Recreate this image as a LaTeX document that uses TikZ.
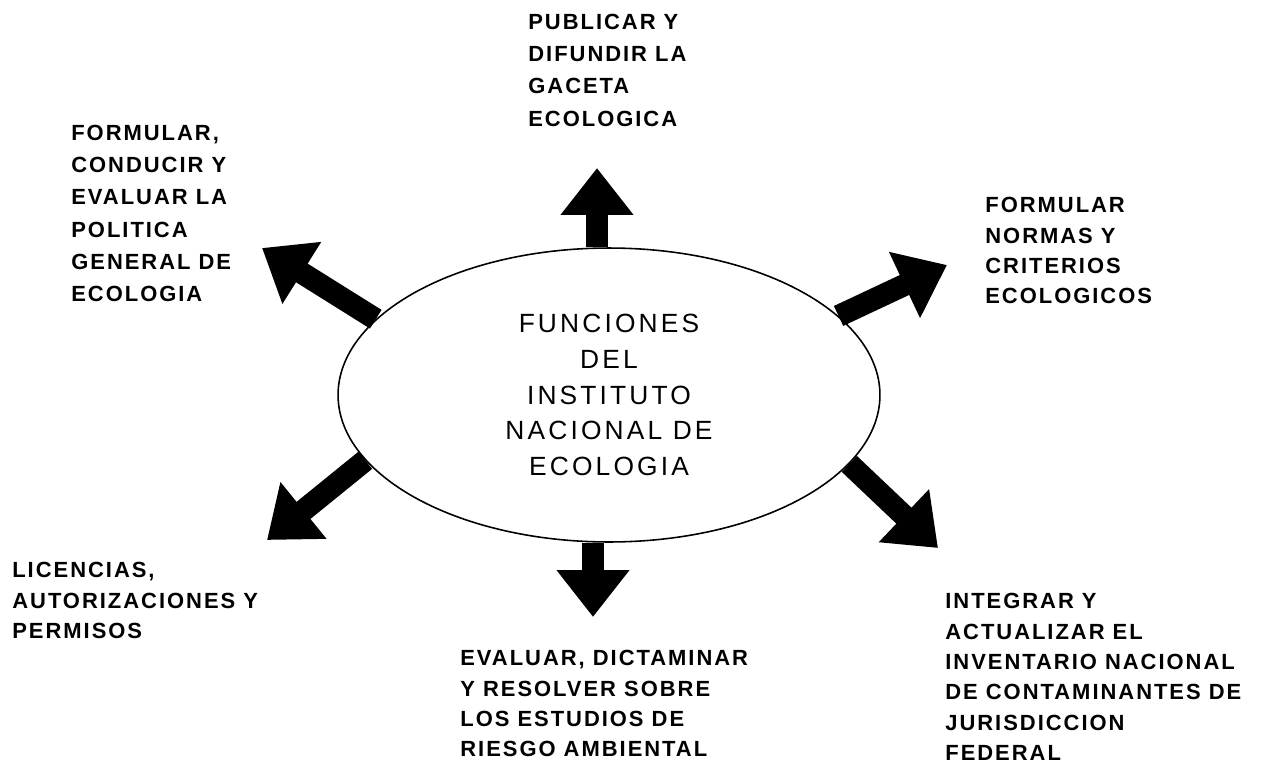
\documentclass[tikz,border=0pt]{standalone}
\usepackage{fontspec}
\newfontfamily\lblfont[LetterSpace=9]{Liberation Sans}
\newfontfamily\ttlfont[LetterSpace=12]{Liberation Sans}
\usetikzlibrary{positioning}
\usetikzlibrary{arrows.meta}
\usetikzlibrary{shapes.geometric}

\tikzset{
  fnlabel/.style={font=\lblfont\bfseries\fontsize{12.5}{17.3}\selectfont, align=left, anchor=north west, inner sep=0pt},
  widelabel/.style={fnlabel, font=\lblfont\bfseries\fontsize{12.5}{18.3}\selectfont},
  fatarrow/.style={line width=0.44cm, -{Triangle[width=1.4cm,length=0.94cm]}},
}

\begin{document}
\begin{tikzpicture}[x=0.02cm, y=-0.02cm]
    \useasboundingbox (0,0) rectangle (1268,771);

    \node[draw, line width=0.9pt, ellipse, minimum width=10.84cm, minimum height=5.88cm, inner sep=0pt,
          align=center, font=\ttlfont\fontsize{15}{20.3}\selectfont] (fun) at (609,395)
          {FUNCIONES\\DEL\\INSTITUTO\\NACIONAL DE\\ECOLOGIA};

    \coordinate (ttop) at (597,168);
    \coordinate (tbot) at (593,617);
    \coordinate (tul) at (262,248);
    \coordinate (tur) at (947,265);
    \coordinate (tll) at (267,540);
    \coordinate (tlr) at (938,548);

    \draw[fatarrow] (fun.north -| ttop) -- (ttop);
    \draw[fatarrow] (fun.south -| tbot) -- (tbot);
    \draw[fatarrow] (fun.162) -- (tul);
    \draw[fatarrow] (fun.19) -- (tur);
    \draw[fatarrow] (fun.195) -- (tll);
    \draw[fatarrow] (fun.344) -- (tlr);

    \node[widelabel] (pub) at (528,14) {PUBLICAR Y\\DIFUNDIR LA\\GACETA\\ECOLOGICA};
    \node[widelabel] (pol) at (71,125) {FORMULAR,\\CONDUCIR Y\\EVALUAR LA\\POLITICA\\GENERAL DE\\ECOLOGIA};
    \node[fnlabel] (nor) at (985,197) {FORMULAR\\NORMAS Y\\CRITERIOS\\ECOLOGICOS};
    \node[fnlabel] (lic) at (12,562) {LICENCIAS,\\AUTORIZACIONES Y\\PERMISOS};
    \node[fnlabel] (rie) at (460,650) {EVALUAR, DICTAMINAR\\Y RESOLVER SOBRE\\LOS ESTUDIOS DE\\RIESGO AMBIENTAL};
    \node[fnlabel] (inv) at (945,593) {INTEGRAR Y\\ACTUALIZAR EL\\INVENTARIO NACIONAL\\DE CONTAMINANTES DE\\JURISDICCION\\FEDERAL};

\end{tikzpicture}
\end{document}
